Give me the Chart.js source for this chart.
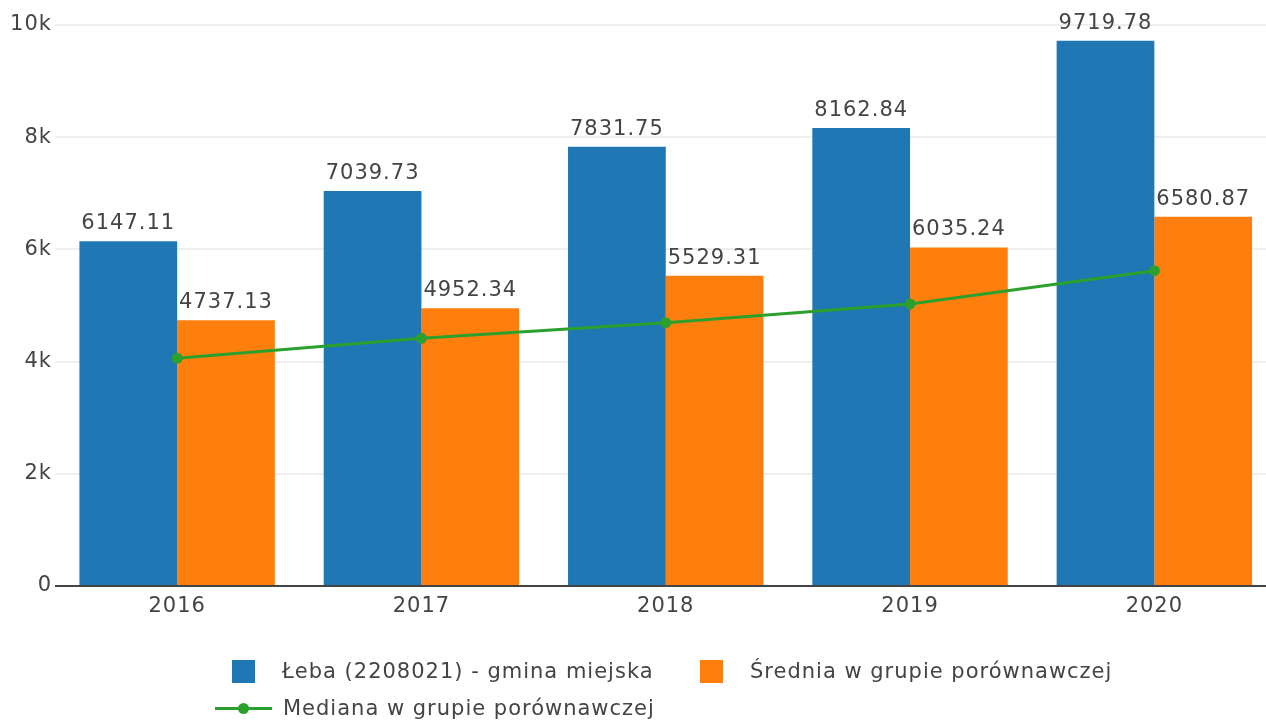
<!DOCTYPE html>
<html>
<head>
<meta charset="utf-8">
<script src="https://cdn.jsdelivr.net/npm/chart.js@4/dist/chart.umd.min.js"></script>
<style>
  html, body { margin: 0; padding: 0; background: #fff; overflow: hidden; }
  #wrap { position: relative; width: 1282px; height: 720px; }
  .leg { position: absolute; font-family: "DejaVu Sans", Verdana, sans-serif; font-size: 21px; letter-spacing: 1px; color: #444; white-space: nowrap; line-height: 24px; }
  .sw { position: absolute; width: 23px; height: 23px; }
</style>
</head>
<body>
<div id="wrap">
  <canvas id="chart" width="1282" height="720"></canvas>
  <div id="legend"></div>
</div>
<script>
// chart data
const years = ['2016', '2017', '2018', '2019', '2020'];
const lebaValues = [6147.11, 7039.73, 7831.75, 8162.84, 9719.78];
const sredniaValues = [4737.13, 4952.34, 5529.31, 6035.24, 6580.87];
const medianaValues = [4059, 4415, 4693, 5027, 5620];
const yTicks = [0, 2000, 4000, 6000, 8000, 10000];

const FONT = '"DejaVu Sans", Verdana, sans-serif';
const TEXT = '#444';

// wider lettering, closer to the original
const spacing = {
    id: 'spacing',
    beforeLayout(chart) { chart.ctx.letterSpacing = '1px'; },
    beforeDraw(chart) { chart.ctx.letterSpacing = '1px'; }
};

// value labels above bars
const barLabels = {
    id: 'barLabels',
    afterDatasetsDraw(chart) {
        const ctx = chart.ctx;
        ctx.save();
        ctx.font = '21px ' + FONT;
        ctx.fillStyle = TEXT;
        ctx.textAlign = 'center';
        ctx.textBaseline = 'bottom';
        chart.data.datasets.forEach((ds, i) => {
            if (ds.type !== 'bar') return;
            chart.getDatasetMeta(i).data.forEach((bar, j) => {
                ctx.fillText(ds.data[j].toFixed(2), bar.x, bar.y - 7);
            });
        });
        ctx.restore();
    }
};

const chart = new Chart(document.getElementById('chart'), {
    data: {
        labels: years,
        datasets: [
            {
                type: 'line',
                label: 'Mediana w grupie porównawczej',
                data: medianaValues,
                borderColor: '#2ca02c',
                backgroundColor: '#2ca02c',
                borderWidth: 3,
                pointRadius: 5.5,
                pointBorderWidth: 0,
                tension: 0,
                order: 0
            },
            {
                type: 'bar',
                label: 'Łeba (2208021) - gmina miejska',
                data: lebaValues,
                backgroundColor: '#1f77b4',
                categoryPercentage: 0.8,
                barPercentage: 1.0,
                order: 1
            },
            {
                type: 'bar',
                label: 'Średnia w grupie porównawczej',
                data: sredniaValues,
                backgroundColor: '#ff7f0e',
                categoryPercentage: 0.8,
                barPercentage: 1.0,
                order: 1
            }
        ]
    },
    options: {
        responsive: false,
        animation: false,
        layout: { padding: { top: 25, left: 0, right: 0, bottom: 94 } },
        plugins: { legend: { display: false }, tooltip: { enabled: false } },
        scales: {
            x: {
                grid: { display: false },
                border: { display: false },
                ticks: { color: TEXT, font: { family: FONT, size: 21 }, padding: 0, maxRotation: 0 },
                afterFit(scale) { scale.height = 40; }
            },
            y: {
                min: 0,
                max: 10000,
                afterBuildTicks(scale) { scale.ticks = yTicks.map(v => ({ value: v })); },
                grid: {
                    drawTicks: false,
                    color: c => c.tick.value === 0 ? '#444' : '#eee',
                    lineWidth: 2
                },
                border: { display: false },
                ticks: {
                    color: TEXT,
                    font: { family: FONT, size: 21 },
                    padding: 3,
                    callback: v => v === 0 ? '0' : (v / 1000) + 'k'
                },
                afterFit(scale) { scale.width = 55; }
            }
        }
    },
    plugins: [spacing, barLabels]
});

// legend laid out like the original (two rows, left aligned)
const legendItems = [
    { ds: 1, kind: 'box', x: 232, y: 660, tx: 282 },
    { ds: 2, kind: 'box', x: 700, y: 660, tx: 750 },
    { ds: 0, kind: 'line', x: 215, y: 697, tx: 283 }
];
const legendEl = document.getElementById('legend');
legendItems.forEach(it => {
    const ds = chart.data.datasets[it.ds];
    if (it.kind === 'box') {
        const sw = document.createElement('div');
        sw.className = 'sw';
        sw.style.left = it.x + 'px';
        sw.style.top = it.y + 'px';
        sw.style.background = ds.backgroundColor;
        legendEl.appendChild(sw);
    } else {
        const ln = document.createElement('div');
        ln.style.cssText = 'position:absolute;left:' + it.x + 'px;top:' + (it.y + 10) + 'px;width:57px;height:3px;background:' + ds.borderColor;
        legendEl.appendChild(ln);
        const dot = document.createElement('div');
        dot.style.cssText = 'position:absolute;left:' + (it.x + 23) + 'px;top:' + (it.y + 6) + 'px;width:11px;height:11px;border-radius:50%;background:' + ds.borderColor;
        legendEl.appendChild(dot);
    }
    const t = document.createElement('div');
    t.className = 'leg';
    t.style.left = it.tx + 'px';
    t.style.top = (it.y - 1) + 'px';
    t.textContent = ds.label;
    legendEl.appendChild(t);
});
</script>
</body>
</html>
